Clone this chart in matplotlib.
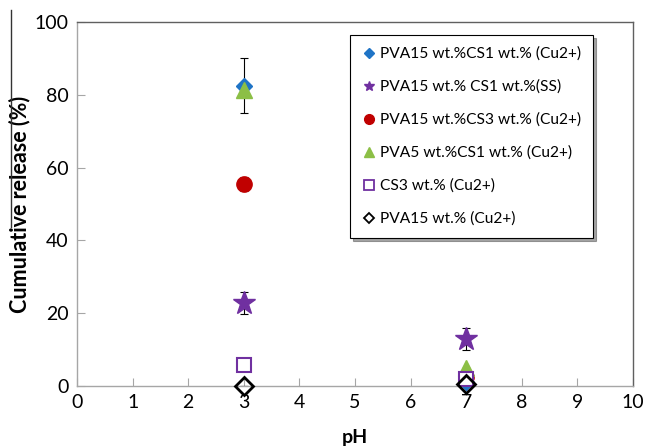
import matplotlib
matplotlib.use("Agg")
import matplotlib.pyplot as plt
from matplotlib.lines import Line2D

plt.rcParams['font.family'] = ['Lato', 'DejaVu Sans']

ph = [3, 7]
labels = ["PVA15 wt.%CS1 wt.% (Cu2+)", "PVA15 wt.% CS1 wt.%(SS)", "PVA15 wt.%CS3 wt.% (Cu2+)",
          "PVA5 wt.%CS1 wt.% (Cu2+)", "CS3 wt.% (Cu2+)", "PVA15 wt.% (Cu2+)"]
pva15_cs1_cu = [82.5, 1.0]
pva15_cs1_cu_err = [7.5, 0.0]
pva15_cs1_ss = [22.7, 12.9]
pva15_cs1_ss_err = [3.0, 3.0]
pva15_cs3_cu = [55.5, 2.5]
pva15_cs3_cu_err = [2.0, 0.5]
pva5_cs1_cu = [81.3, 5.0]
pva5_cs1_cu_err = [0.0, 0.0]
cs3_cu = [5.8, 2.0]
cs3_cu_err = [1.0, 0.5]
pva15_cu = [0.0, 0.5]
pva15_cu_err = [0.0, 0.0]
xticks = list(range(0, 11))
yticks = [0, 20, 40, 60, 80, 100]

W, H = 647, 447
fig = plt.figure(figsize=(W/100, H/100), dpi=100)
ax = fig.add_axes([77/W, 1-386/H, (633-77)/W, (386-22)/H])

series = [
    (pva15_cs1_cu, pva15_cs1_cu_err, dict(marker='D', ms=8, mfc='#1f74c6', mec='#1f74c6'), 5.5),
    (pva15_cs1_ss, pva15_cs1_ss_err, dict(marker='*', ms=17, mfc='#7030a0', mec='#7030a0'), 7.5),
    (pva15_cs3_cu, pva15_cs3_cu_err, dict(marker='o', ms=11, mfc='#c00000', mec='#c00000'), 7),
    (pva5_cs1_cu, pva5_cs1_cu_err, dict(marker='^', ms=12, mfc='#8cbf46', mec='#8cbf46'), 7.5),
    (cs3_cu, cs3_cu_err, dict(marker='s', ms=10, mfc='white', mec='#7030a0', mew=1.5), 7),
    (pva15_cu, pva15_cu_err, dict(marker='D', ms=9, mfc='none', mec='black', mew=2), 5.5),
]
handles = []
for (vals, err, st, hms), lab in zip(series, labels):
    ax.errorbar(ph, vals, yerr=err, ls='none', ecolor='black', elinewidth=0.8,
                capsize=3, capthick=0.8, zorder=2)
    ax.plot(ph, vals, ls='none', zorder=3, clip_on=False, **st)
    hst = dict(st)
    hst['ms'] = hms
    if 'mew' in hst:
        hst['mew'] = 1.3
    handles.append(Line2D([], [], ls='none', label=lab, **hst))

ax.set_xlim(0, 10)
ax.set_ylim(0, 100)
ax.set_xticks(xticks)
ax.set_yticks(yticks)
ax.tick_params(direction='in', length=6, width=0.8, color='#a6a6a6', labelsize=14, pad=6)
for s in ['left', 'bottom']:
    ax.spines[s].set_color('#a6a6a6')
for s in ['top', 'right']:
    ax.spines[s].set_color('#606060')
for s in ax.spines.values():
    s.set_linewidth(1.0)

ax.set_xlabel('pH', fontsize=14, fontweight='bold', labelpad=13)
ax.set_ylabel('Cumulative release (%)', fontsize=15.5, fontweight='bold', labelpad=3)

leg = ax.legend(handles=handles, loc='upper left', bbox_to_anchor=((350-77)/(633-77), 1-(35-22)/(386-22)),
                frameon=True, fancybox=False, shadow=True, edgecolor='black', fontsize=11.2,
                labelspacing=1.2, handletextpad=0.2, handlelength=1.0, borderpad=0.75,
                borderaxespad=0)
leg.get_frame().set_linewidth(0.8)

fig.add_artist(Line2D([11/W, 11/W], [1-10/H, 1-227/H], color='#333333', lw=1))

fig.savefig('out.png', dpi=100)
